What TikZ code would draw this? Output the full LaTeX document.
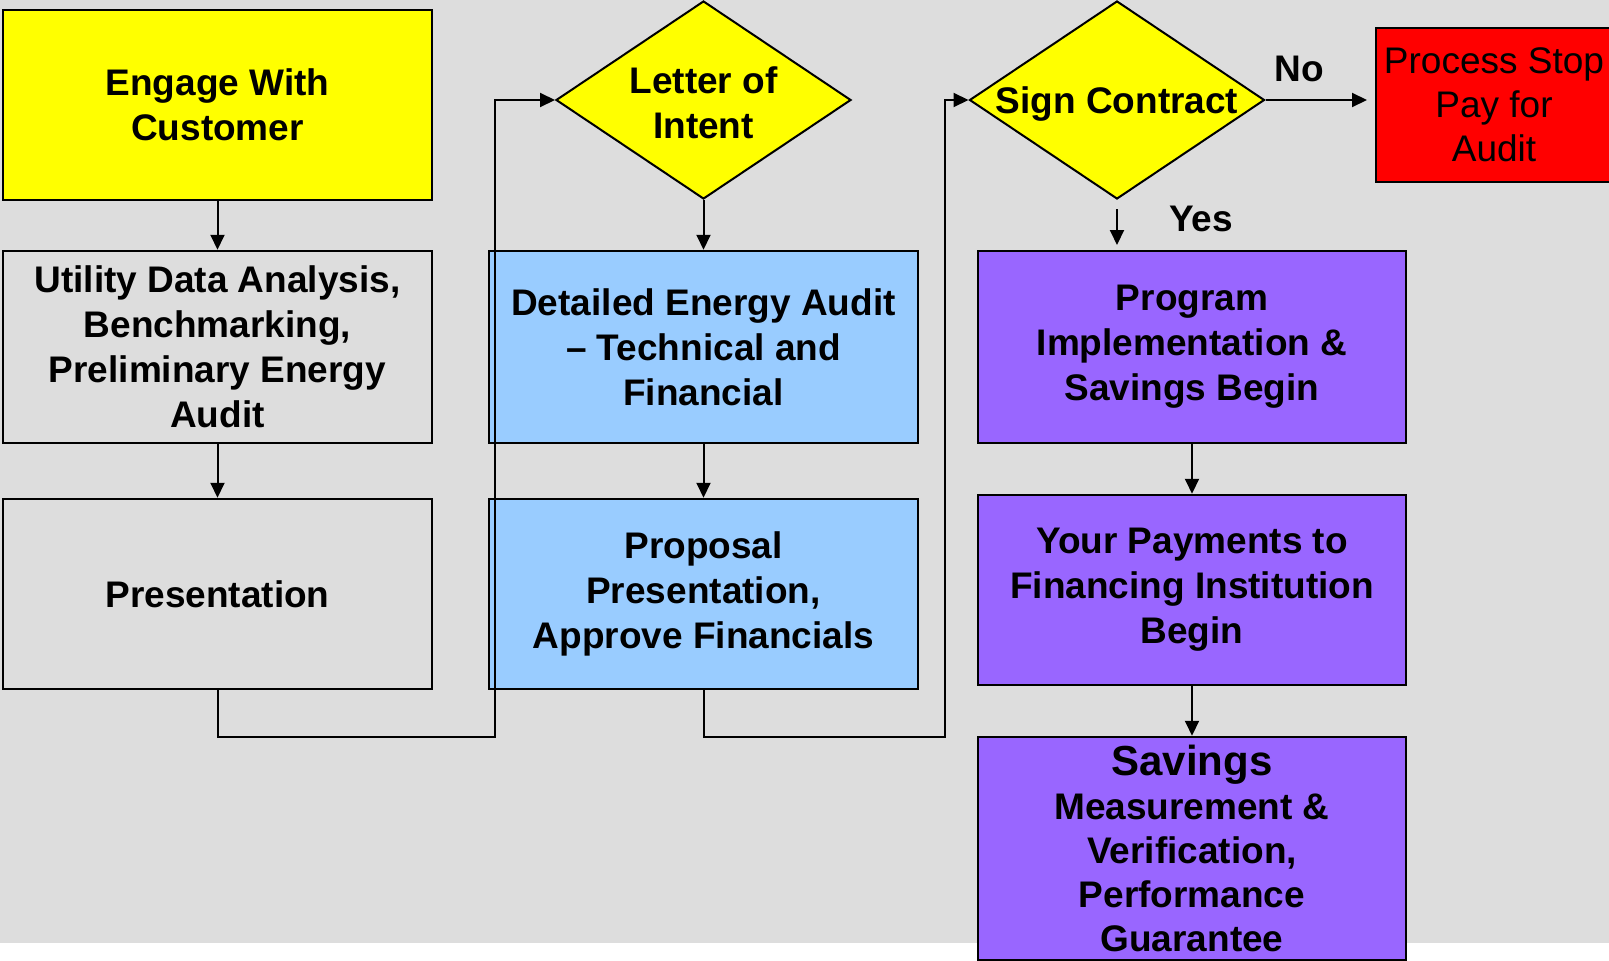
\documentclass[tikz,border=0pt]{standalone}
\usepackage{fontspec}
\setmainfont{Liberation Sans}
\usetikzlibrary{shapes.geometric,arrows.meta}
\definecolor{bggray}{HTML}{DDDDDD}
\definecolor{boxyellow}{HTML}{FFFF00}
\definecolor{boxblue}{HTML}{99CCFF}
\definecolor{boxpurple}{HTML}{9966FF}
\definecolor{boxred}{HTML}{FF0000}
\begin{document}
\begin{tikzpicture}[x=1pt,y=1pt,yscale=-1,xscale=1,
    txt/.style={font=\bfseries\fontsize{37}{45}\selectfont,align=center},
    box/.style={txt,draw,line width=2.5pt,minimum width=429pt,minimum height=190pt,inner sep=0pt},
    decision/.style={diamond,draw,line width=2pt,fill=boxyellow,minimum width=295pt,minimum height=198pt,inner sep=0pt},
    conn/.style={line width=2pt},
    arr/.style={conn,-{Triangle[length=15pt,width=14pt]}}]
    \useasboundingbox (0,0) rectangle (1609,961);
    \fill[bggray] (0,0) rectangle (1609,943);
    % left column
    \node[box,fill=boxyellow] (engage) at (217.5,105) {Engage With\\Customer};
    \node[box,fill=bggray,minimum height=192pt] (util) at (217.5,347) {Utility Data Analysis,\\Benchmarking,\\Preliminary Energy\\Audit};
    \node[box,fill=bggray] (pres) at (217.5,594) {Presentation};
    % middle column
    \node[decision,label={[txt,yshift=-3pt]center:{Letter of\\Intent}}] (letter) at (703.5,100) {};
    \node[box,fill=boxblue,minimum height=192pt] (audit) at (703.5,347) {Detailed Energy Audit\\– Technical and\\Financial};
    \node[box,fill=boxblue] (proposal) at (703.5,594) {Proposal\\Presentation,\\Approve Financials};
    % right column
    \node[decision,label={[txt,yshift=-4pt]center:{Sign Contract}}] (sign) at (1117,100) {};
    \node[draw,line width=2pt,fill=boxred,minimum width=236pt,minimum height=154pt,align=center,inner sep=0pt,
          font=\fontsize{37}{44}\selectfont] (stop) at (1494,105) {Process Stop\\Pay for\\Audit};
    \node[box,fill=boxpurple,minimum width=428pt,minimum height=192pt] (prog) at (1192,347) {Program\\Implementation \&\\Savings Begin};
    \node[box,fill=boxpurple,minimum width=428pt] (pay) at (1192,590) {Your Payments to\\Financing Institution\\Begin};
    \node[box,fill=boxpurple,minimum width=428pt,minimum height=223pt,font=\bfseries\fontsize{37}{44}\selectfont] (meas) at (1192,848.5)
        {{\fontsize{42}{46}\selectfont Savings}\\Measurement \&\\Verification,\\Performance\\Guarantee};
    \node[txt] (nolbl) at (1299,69) {No};
    \node[txt] (yeslbl) at (1201,219) {Yes};
    % connectors
    \coordinate (bend1) at (495,737);
    \coordinate (bend2) at (945,737);
    \coordinate (yesfrom) at (1117,209);
    \coordinate (yesto) at (1117,245);
    \draw[arr] (engage) -- (util);
    \draw[arr] (util) -- (pres);
    \draw[arr] (pres.south) |- (bend1) |- (letter.west);
    \draw[arr] (letter.south) -- (audit.north);
    \draw[arr] (audit) -- (proposal);
    \draw[arr] (proposal.south) |- (bend2) |- (sign.west);
    \draw[arr,shorten >=8pt] (sign.east) -- (sign.east -| stop.west);
    \draw[arr] (yesfrom) -- (yesto);
    \draw[arr] (prog) -- (pay);
    \draw[arr] (pay) -- (meas);
\end{tikzpicture}
\end{document}
